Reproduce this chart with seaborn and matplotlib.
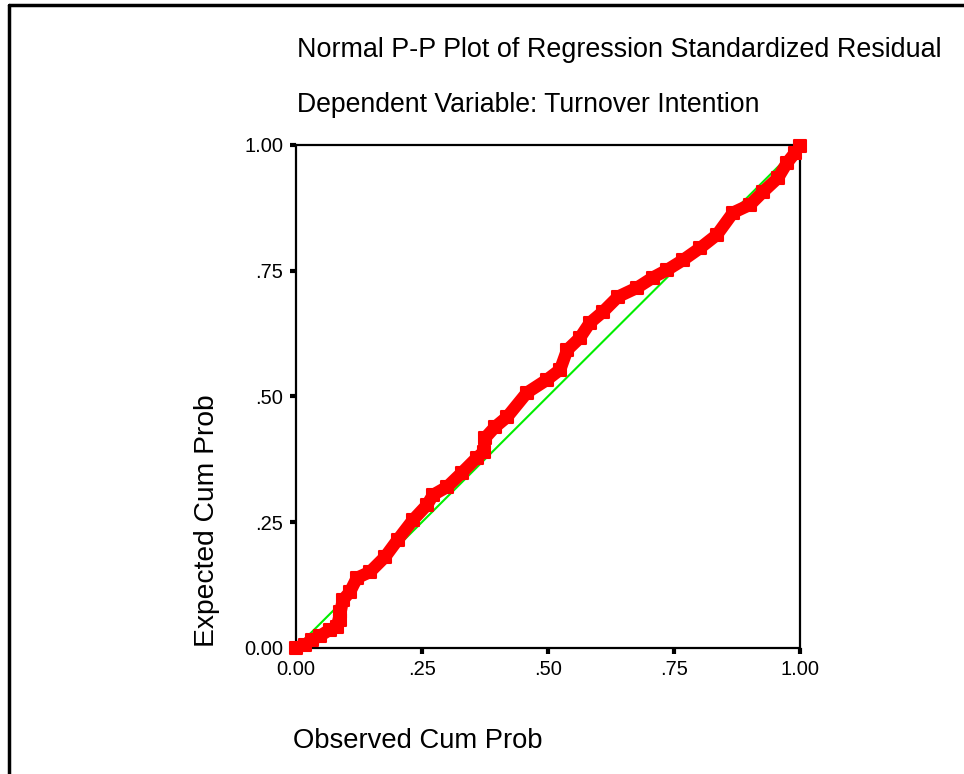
import pandas as pd
import seaborn as sns
import matplotlib.pyplot as plt
from matplotlib.lines import Line2D

# P-P plot values
observed = [0.000, 0.018, 0.032, 0.048, 0.067, 0.081, 0.087, 0.087, 0.093, 0.107,
            0.121, 0.147, 0.177, 0.202, 0.232, 0.260, 0.272, 0.300, 0.329, 0.359,
            0.373, 0.375, 0.395, 0.419, 0.458, 0.498, 0.524, 0.538, 0.563, 0.583,
            0.609, 0.639, 0.677, 0.708, 0.736, 0.768, 0.802, 0.835, 0.867, 0.901,
            0.927, 0.956, 0.974, 0.990, 1.000]
expected = [0.000, 0.006, 0.016, 0.024, 0.036, 0.042, 0.056, 0.072, 0.095, 0.111,
            0.139, 0.151, 0.181, 0.215, 0.254, 0.284, 0.304, 0.320, 0.348, 0.378,
            0.390, 0.417, 0.439, 0.459, 0.507, 0.533, 0.553, 0.592, 0.616, 0.646,
            0.668, 0.698, 0.716, 0.736, 0.751, 0.771, 0.795, 0.821, 0.865, 0.881,
            0.907, 0.934, 0.964, 0.984, 0.998]
ref_line = [0.0, 1.0]
tick_vals = [0.0, 0.25, 0.5, 0.75, 1.0]
tick_labels = ['0.00', '.25', '.50', '.75', '1.00']

df = pd.DataFrame({'obs': observed, 'exp': expected})

sns.set_style('white')
plt.rcParams['font.family'] = ['Liberation Sans', 'DejaVu Sans']
plt.rcParams['text.color'] = 'black'
plt.rcParams['xtick.color'] = 'black'
plt.rcParams['ytick.color'] = 'black'

fig = plt.figure(figsize=(9.64, 7.74), dpi=100)
ax = fig.add_axes([0.307, 0.163, 0.523, 0.650])

# reference diagonal
sns.lineplot(x=ref_line, y=ref_line, color='#00ee00', linewidth=1.5, ax=ax)
# residual points
sns.lineplot(data=df, x='obs', y='exp', color='red', linewidth=9, sort=False, ax=ax)
sns.scatterplot(data=df, x='obs', y='exp', marker='s', s=80, color='red',
                edgecolor='red', linewidth=1.5, ax=ax, zorder=3, clip_on=False)

ax.set_xlim(0, 1)
ax.set_ylim(0, 1)
ax.set_xticks(tick_vals)
ax.set_xticklabels(tick_labels)
ax.set_yticks(tick_vals)
ax.set_yticklabels(tick_labels)
ax.tick_params(bottom=True, left=True, direction='out', length=4, width=3,
               labelsize=14.5, pad=5, color='black', labelcolor='black')
ax.set_xlabel('')
ax.set_ylabel('')
for sp in ax.spines.values():
    sp.set_color('black')
    sp.set_linewidth(1.6)

fig.text(0.308, 0.935, 'Normal P-P Plot of Regression Standardized Residual', fontsize=19.4, va='center')
fig.text(0.308, 0.864, 'Dependent Variable: Turnover Intention', fontsize=19.2, va='center')
fig.text(0.304, 0.043, 'Observed Cum Prob', fontsize=19.7, va='center')
fig.text(0.215, 0.327, 'Expected Cum Prob', fontsize=20.3, rotation=90, ha='center', va='center')

# outer frame (left and top only)
fig.add_artist(Line2D([0.0095, 0.0095], [0, 0.993], transform=fig.transFigure, color='black', linewidth=2.5))
fig.add_artist(Line2D([0.0095, 1.0], [0.993, 0.993], transform=fig.transFigure, color='black', linewidth=2.5))

fig.savefig('out.png', dpi=100)
